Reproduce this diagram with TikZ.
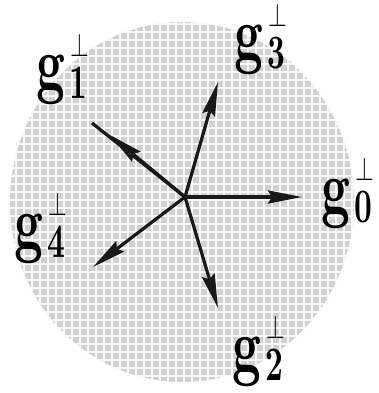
\documentclass[tikz,border=0pt]{standalone}
\usetikzlibrary{arrows.meta}
\newcommand{\glab}[1]{\scalebox{5.0}[7.6]{\bfseries g}\kern5pt\rlap{\raisebox{-9pt}{\scalebox{3.1}[4.8]{\bfseries #1}}}\kern1pt\raisebox{33pt}{\scalebox{2.4}[3.3]{$\perp$}}}
\begin{document}
\begin{tikzpicture}[x=1pt,y=-1pt,
  vec/.style={line width=3.2pt,black!90},
  vechead/.style={line width=3.2pt,black!90,-{Stealth[length=34pt,width=13pt,inset=4pt]}},
  glabel/.style={inner sep=0pt,anchor=base west}]
\useasboundingbox (0,0) rectangle (379,393);
\begin{scope}
  \clip (182,202) ellipse [x radius=172, y radius=180];
  \fill[gray!36] (0,0) rectangle (379,393);
  \draw[white,line width=2.5pt,step=8pt,opacity=0.85] (0,0) grid (379,393);
\end{scope}
\coordinate (c) at (185,197);
\coordinate (t0) at (302,197);
\coordinate (t3) at (218,82);
\coordinate (t1) at (92,123);
\coordinate (h1) at (110,135);
\coordinate (t4) at (93,267);
\coordinate (t2) at (218,308);
\draw[vechead] (c) -- (t0);
\draw[vechead] (c) -- (t3);
\draw[vec] (c) -- (t1);
\draw[vechead] (c) -- (h1);
\draw[vechead] (c) -- (t4);
\draw[vechead] (c) -- (t2);
\node[glabel] (l1) at (36,90) {\glab{1}};
\node[glabel] (l3) at (234,60) {\glab{3}};
\node[glabel] (l0) at (321,213) {\glab{0}};
\node[glabel] (l4) at (14,248) {\glab{4}};
\node[glabel] (l2) at (232,371) {\glab{2}};
\end{tikzpicture}
\end{document}
